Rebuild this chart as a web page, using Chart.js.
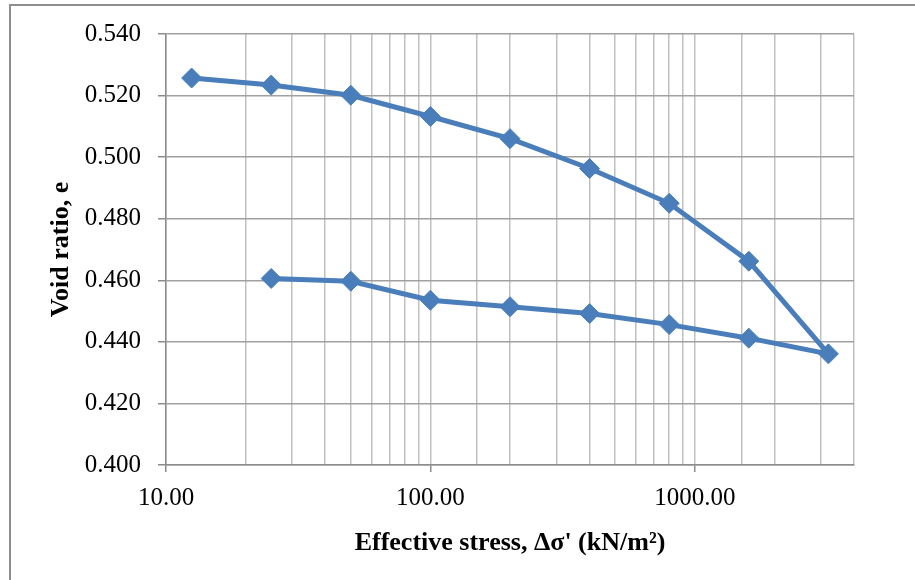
<!DOCTYPE html>
<html>
<head>
<meta charset="utf-8">
<script src="https://cdn.jsdelivr.net/npm/chart.js@4"></script>
<style>
  html, body { margin: 0; padding: 0; background: #fff; overflow: hidden; }
  #wrap { position: relative; width: 915px; height: 580px; }
  #frame { position: absolute; left: 9px; top: 4px; width: 1000px; height: 1000px; border: 2px solid #8e8e8e; box-sizing: border-box; }
  canvas { position: absolute; left: 0; top: 0; }
</style>
</head>
<body>
<div id="wrap">
  <div id="frame"></div>
  <canvas id="chart" width="915" height="580"></canvas>
</div>
<script>
// Consolidation test: loading then unloading branch
const stressLoading = [12.5, 25, 50, 100, 200, 400, 800, 1600, 3200];
const voidLoading = [0.5257, 0.5234, 0.5201, 0.5132, 0.5060, 0.4963, 0.4850, 0.4662, 0.4361];
const stressUnloading = [1600, 800, 400, 200, 100, 50, 25];
const voidUnloading = [0.4412, 0.4456, 0.4492, 0.4514, 0.4535, 0.4597, 0.4606];

const xMin = 10;
const xMax = 4000;
const yTicks = [0.400, 0.420, 0.440, 0.460, 0.480, 0.500, 0.520, 0.540];

const serif = "'Liberation Serif', 'Times New Roman', serif";
const blue = '#4a7ebb';

function buildPoints() {
    const pts = [];
    stressLoading.forEach((s, i) => pts.push({ x: s, y: voidLoading[i] }));
    stressUnloading.forEach((s, i) => pts.push({ x: s, y: voidUnloading[i] }));
    return pts;
}

function isDecade(v) {
    const l = Math.log10(v);
    return Math.abs(l - Math.round(l)) < 1e-9;
}

function initChart() {
    const ctx = document.getElementById('chart').getContext('2d');

    new Chart(ctx, {
        type: 'scatter',
        data: {
            datasets: [{
                data: buildPoints(),
                showLine: true,
                borderColor: blue,
                backgroundColor: blue,
                borderWidth: 5,
                pointStyle: 'rectRot',
                pointRadius: 10,
                pointBackgroundColor: blue,
                pointBorderColor: blue,
                pointBorderWidth: 1,
                tension: 0
            }]
        },
        options: {
            responsive: false,
            animation: false,
            layout: {
                padding: { left: 0, top: 34, right: 61, bottom: 0 }
            },
            plugins: {
                legend: { display: false },
                tooltip: { enabled: false }
            },
            scales: {
                x: {
                    type: 'logarithmic',
                    min: xMin,
                    max: xMax,
                    afterFit: (scale) => { scale.height = 115; },
                    border: { color: '#8c8c8c', width: 1.5 },
                    grid: {
                        color: '#c0c0c0',
                        lineWidth: 1.5,
                        tickLength: 7,
                        tickColor: (c) => (c.tick && isDecade(c.tick.value)) ? '#8c8c8c' : 'rgba(0,0,0,0)'
                    },
                    ticks: {
                        autoSkip: false,
                        maxRotation: 0,
                        padding: 11,
                        color: '#000',
                        font: { family: serif, size: 25 },
                        callback: function(value) {
                            return isDecade(value) ? value.toFixed(2) : '';
                        }
                    },
                    title: {
                        display: true,
                        text: "Effective stress, \u0394\u03c3' (kN/m\u00b2)",
                        color: '#000',
                        font: { family: serif, size: 26, weight: 'bold' },
                        padding: { top: 0, bottom: 21 }
                    }
                },
                y: {
                    min: 0.4,
                    max: 0.54,
                    afterFit: (scale) => { scale.width = 166; },
                    afterBuildTicks: (scale) => { scale.ticks = yTicks.map(v => ({ value: v })); },
                    border: { color: '#8c8c8c', width: 1.5 },
                    grid: {
                        color: '#a0a0a0',
                        lineWidth: 1.5,
                        tickLength: 8,
                        tickColor: '#8c8c8c'
                    },
                    ticks: {
                        padding: 17,
                        color: '#000',
                        font: { family: serif, size: 25 },
                        callback: function(value) {
                            return value.toFixed(3);
                        }
                    },
                    title: {
                        display: true,
                        text: 'Void ratio, e',
                        color: '#000',
                        font: { family: serif, size: 26, weight: 'bold' },
                        padding: { top: 46, bottom: 0 }
                    }
                }
            }
        }
    });
}

document.addEventListener('DOMContentLoaded', initChart);
</script>
</body>
</html>
